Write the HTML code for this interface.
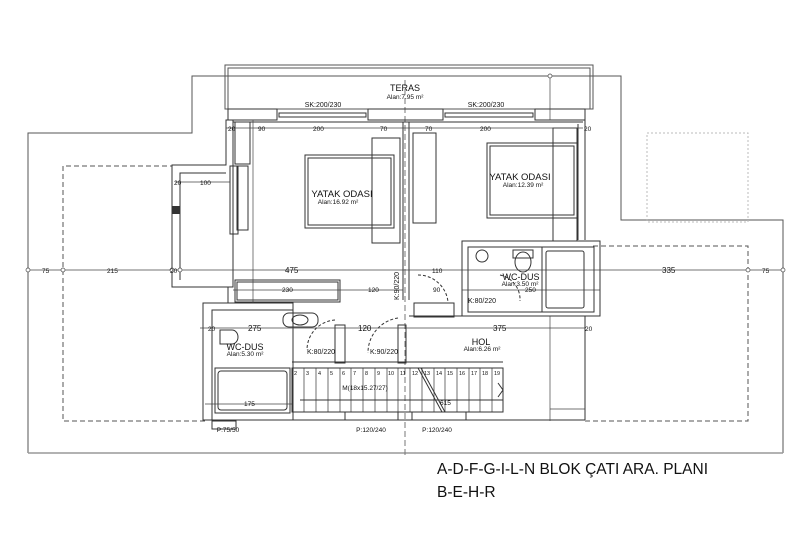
<!DOCTYPE html>
<html><head><meta charset="utf-8"><style>
html,body{margin:0;padding:0;background:#fff;width:800px;height:533px;overflow:hidden}
svg{display:block}
text{font-family:"Liberation Sans",sans-serif;fill:#111}
.d{font-size:6.5px;fill:#333}
</style></head><body>
<svg width="800" height="533" viewBox="0 0 800 533" xmlns="http://www.w3.org/2000/svg">
<g fill="none" stroke="#555" stroke-width="1">
<polyline points="28,453 28,133 192,133 192,76 621,76 621,220 783,220 783,453"/>
<line x1="28" y1="453" x2="783" y2="453" stroke="#999" stroke-width="1.5"/>
<rect x="225" y="65" width="368" height="44"/>
<polyline points="228,109 228,68 590,68 590,109"/>
<polyline points="205,421 63,421 63,166 172,166" stroke-dasharray="5,3"/>
<polyline points="593,246 748,246 748,421 585,421" stroke-dasharray="5,3"/>
<rect x="647" y="133" width="101" height="89" stroke="#bbb" stroke-dasharray="2,2"/>
<line x1="405" y1="80" x2="405" y2="455" stroke-dasharray="6,3" stroke="#777"/>
</g>
<g fill="none" stroke="#333" stroke-width="1">
<rect x="228" y="109" width="49" height="11"/>
<rect x="368" y="109" width="75" height="11"/>
<rect x="535" y="109" width="50" height="11"/>
<rect x="279" y="113" width="87" height="4"/><rect x="445" y="113" width="88" height="4"/>
<polyline points="233,120 233,287 172,287 172,165 226,165 226,120 233,120"/>
<polyline points="180,280 180,173 226,173"/>
<line x1="233" y1="122" x2="583" y2="122"/>
<polyline points="583,120 585,120 585,240"/>
<line x1="578" y1="124" x2="578" y2="240"/>
<line x1="403" y1="122" x2="403" y2="300"/><line x1="409" y1="122" x2="409" y2="300"/>
<rect x="235" y="122" width="15" height="42"/>
<rect x="230" y="166" width="8" height="68"/>
<rect x="237" y="166" width="11" height="64"/>
<rect x="413" y="133" width="23" height="90"/>
<rect x="235" y="280" width="105" height="22"/><rect x="237" y="282" width="101" height="18"/>
<rect x="305" y="155" width="89" height="73"/><rect x="308" y="158" width="83" height="67"/>
<rect x="372" y="138" width="28" height="105"/>
<rect x="487" y="143" width="90" height="75"/><rect x="490" y="146" width="84" height="69"/>
<rect x="553" y="128" width="24" height="113"/>
<rect x="462" y="241" width="138" height="75"/>
<rect x="468" y="247" width="126" height="65"/>
<rect x="542" y="247" width="52" height="65"/>
<rect x="546" y="251" width="38" height="57" rx="2"/>
<ellipse cx="523" cy="262" rx="8" ry="10"/><rect x="513" y="250" width="20" height="8"/>
<circle cx="482" cy="256" r="6"/>
<line x1="409" y1="316" x2="585" y2="316"/>
<line x1="585" y1="316" x2="585" y2="420"/>
<line x1="293" y1="420" x2="585" y2="420"/>
<line x1="228" y1="287" x2="228" y2="303"/>
<rect x="414" y="303" width="40" height="14"/>
<rect x="203" y="303" width="90" height="117"/>
<rect x="212" y="310" width="81" height="110"/>
<rect x="215" y="368" width="75" height="45"/><rect x="218" y="371" width="69" height="39" rx="3"/>
<rect x="283" y="313" width="35" height="14" rx="6"/><ellipse cx="300" cy="320" rx="8" ry="5"/>
<path d="M220,330 h12 a6,7 0 0 1 0,14 h-12 z"/>
<rect x="335" y="325" width="10" height="38"/><rect x="398" y="325" width="8" height="38"/>
<path d="M335,320 A30,30 0 0 0 307,350" stroke-dasharray="3,2"/>
<path d="M398,318 A35,35 0 0 0 368,353" stroke-dasharray="3,2"/>
<path d="M418,275 A30,30 0 0 1 448,302" stroke-dasharray="3,2"/>
<path d="M500,275 A25,25 0 0 1 520,301" stroke-dasharray="3,2"/>
<line x1="292" y1="362" x2="503" y2="362"/>
<rect x="292" y="368" width="211" height="44"/>
<line x1="300" y1="400" x2="503" y2="400"/>
<rect x="212" y="421" width="24" height="8"/><rect x="345" y="412" width="53" height="8"/><rect x="412" y="412" width="54" height="8"/>
<line x1="418" y1="368" x2="442" y2="412"/><line x1="421" y1="368" x2="445" y2="412"/>
<polyline points="498,383 503,390 498,397"/>
</g>
<g stroke="#333" stroke-width="0.7">
<line x1="304" y1="368" x2="304" y2="412"/><line x1="316" y1="368" x2="316" y2="412"/><line x1="328" y1="368" x2="328" y2="412"/><line x1="340" y1="368" x2="340" y2="412"/><line x1="351" y1="368" x2="351" y2="412"/><line x1="363" y1="368" x2="363" y2="412"/><line x1="375" y1="368" x2="375" y2="412"/><line x1="387" y1="368" x2="387" y2="412"/><line x1="398" y1="368" x2="398" y2="412"/><line x1="410" y1="368" x2="410" y2="412"/><line x1="422" y1="368" x2="422" y2="412"/><line x1="434" y1="368" x2="434" y2="412"/><line x1="445" y1="368" x2="445" y2="412"/><line x1="457" y1="368" x2="457" y2="412"/><line x1="469" y1="368" x2="469" y2="412"/><line x1="480" y1="368" x2="480" y2="412"/><line x1="492" y1="368" x2="492" y2="412"/>
</g>
<g stroke="#444" stroke-width="0.7" fill="none">
<line x1="28" y1="270" x2="783" y2="270"/>
<line x1="226" y1="128" x2="583" y2="128"/>
<line x1="175" y1="182" x2="230" y2="182"/>
<line x1="233" y1="290" x2="403" y2="290"/>
<line x1="462" y1="290" x2="600" y2="290"/>
<line x1="200" y1="328" x2="585" y2="328"/>
<line x1="205" y1="404" x2="292" y2="404"/>
<line x1="550" y1="76" x2="550" y2="120"/>
<line x1="550" y1="316" x2="550" y2="421"/>
<line x1="253" y1="120" x2="253" y2="303"/>
<line x1="550" y1="409" x2="585" y2="409"/>
</g>
<g fill="#fff" stroke="#444" stroke-width="0.7">
<circle cx="28" cy="270" r="2"/><circle cx="63" cy="270" r="2"/><circle cx="172" cy="270" r="2"/><circle cx="180" cy="270" r="2"/><circle cx="748" cy="270" r="2"/><circle cx="783" cy="270" r="2"/><circle cx="550" cy="76" r="2"/>
</g>
<rect x="172" y="206" width="8" height="8" fill="#333"/>
<g class="d">
<text x="42" y="273">75</text><text x="107" y="273">215</text><text x="170" y="273">20</text><text x="285" y="273" font-size="8">475</text><text x="432" y="273">110</text><text x="662" y="273" font-size="8">335</text><text x="762" y="273">75</text>
<text x="258" y="131">90</text><text x="313" y="131">200</text><text x="380" y="131">70</text><text x="425" y="131">70</text><text x="480" y="131">200</text><text x="584" y="131">20</text><text x="228" y="131">20</text>
<text x="200" y="185">100</text><text x="174" y="185">20</text>
<text x="282" y="292">230</text><text x="368" y="292">120</text><text x="525" y="292">250</text><text x="433" y="292">90</text>
<text x="248" y="331" font-size="8">275</text><text x="358" y="331" font-size="8">120</text><text x="493" y="331" font-size="8">375</text><text x="208" y="331">20</text><text x="585" y="331">20</text>
<text x="244" y="406">175</text><text x="440" y="405">615</text>
</g>
<g text-anchor="middle">
<text x="405" y="91" font-size="9">TERAS</text><text x="405" y="99" font-size="6.5">Alan:7.95 m²</text>
<text x="323" y="107" font-size="7">SK:200/230</text><text x="486" y="107" font-size="7">SK:200/230</text>
<text x="342" y="197" font-size="9.5">YATAK ODASI</text><text x="338" y="204" font-size="6.5">Alan:16.92 m²</text>
<text x="520" y="180" font-size="9.5">YATAK ODASI</text><text x="523" y="187" font-size="6.5">Alan:12.39 m²</text>
<text x="521" y="280" font-size="9">WC-DUS</text><text x="520" y="286" font-size="6.5">Alan:3.50 m²</text>
<text x="482" y="303" font-size="7">K:80/220</text>
<text x="245" y="350" font-size="9">WC-DUS</text><text x="245" y="356" font-size="6.5">Alan:5.30 m²</text>
<text x="321" y="354" font-size="7">K:80/220</text><text x="384" y="354" font-size="7">K:90/220</text>
<text x="481" y="345" font-size="9">HOL</text><text x="482" y="351" font-size="6.5">Alan:6.26 m²</text>
<text x="365" y="390" font-size="6.5">M(18x15.27/27)</text>
<text x="228" y="432" font-size="6.5">P:75/50</text><text x="371" y="432" font-size="6.5">P:120/240</text><text x="437" y="432" font-size="6.5">P:120/240</text>
</g>
<text x="399" y="300" font-size="7" transform="rotate(-90 399 300)">K:90/220</text>
<g font-size="5.5" fill="#333">
<text x="294" y="375">2</text><text x="306" y="375">3</text><text x="318" y="375">4</text><text x="330" y="375">5</text><text x="342" y="375">6</text><text x="353" y="375">7</text><text x="365" y="375">8</text><text x="377" y="375">9</text><text x="388" y="375">10</text><text x="400" y="375">11</text><text x="412" y="375">12</text><text x="424" y="375">13</text><text x="436" y="375">14</text><text x="447" y="375">15</text><text x="459" y="375">16</text><text x="471" y="375">17</text><text x="482" y="375">18</text><text x="494" y="375">19</text>
</g>
<text x="437" y="474" font-size="15.5">A-D-F-G-I-L-N BLOK ÇATI ARA. PLANI</text>
<text x="437" y="497" font-size="15.5">B-E-H-R</text>
</svg>
</body></html>
